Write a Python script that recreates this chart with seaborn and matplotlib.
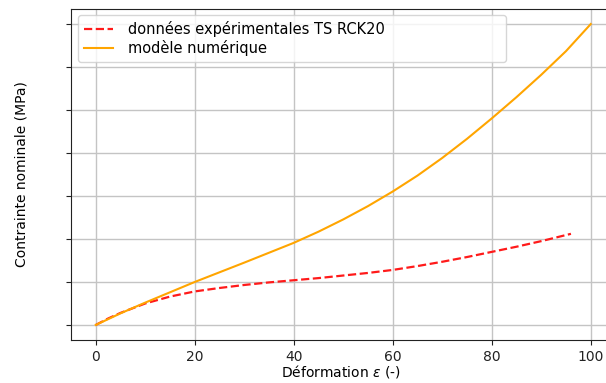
import matplotlib
matplotlib.use("Agg")
import matplotlib.pyplot as plt
import seaborn as sns
import pandas as pd

# Experimental data (TS RCK20)
exp_strain = [0, 2.5, 5, 7.5, 10, 12.5, 15, 17.5, 20, 25, 30, 35, 40, 45, 50, 55,
              60, 65, 70, 75, 80, 85, 90, 96]
exp_stress = [0, 0.15, 0.28, 0.39, 0.50, 0.58, 0.66, 0.72, 0.78, 0.86, 0.93, 0.99,
              1.04, 1.09, 1.15, 1.21, 1.28, 1.37, 1.47, 1.58, 1.70, 1.82, 1.95, 2.12]

# Numerical model
mod_strain = [0, 5, 10, 15, 20, 25, 30, 35, 40, 45, 50, 55, 60, 65, 70, 75, 80,
              85, 90, 95, 100]
mod_stress = [0, 0.27, 0.52, 0.76, 1.0, 1.225, 1.45, 1.68, 1.91, 2.17, 2.455, 2.765,
              3.105, 3.475, 3.885, 4.33, 4.805, 5.30, 5.82, 6.37, 7.0]

y_ticks = [0, 1, 2, 3, 4, 5, 6, 7]
x_ticks = [0, 20, 40, 60, 80, 100]

label_exp = "données expérimentales TS RCK20"
label_mod = "modèle numérique"

df_exp = pd.DataFrame({"x": exp_strain, "y": exp_stress})
df_mod = pd.DataFrame({"x": mod_strain, "y": mod_stress})

plt.rcParams["font.family"] = ["DejaVu Sans"]
fig = plt.figure(figsize=(6.06, 3.83), dpi=100)
# axes extends past the right edge of the figure (reference is cropped there)
ax_left, ax_right = 71, 700
px_per_unit = 4.95
ax = fig.add_axes([ax_left / 606, 1 - 340 / 383, (ax_right - ax_left) / 606, 331 / 383])

sns.lineplot(data=df_exp, x="x", y="y", ax=ax, color="#ff1a1a", linestyle="--",
             linewidth=1.6, label=label_exp)
sns.lineplot(data=df_mod, x="x", y="y", ax=ax, color="orange", linewidth=1.5,
             label=label_mod)

ax.set_xticks(x_ticks)
ax.set_yticks(y_ticks)
ax.set_yticklabels([])
ax.set_xlim(-5, -5 + (ax_right - ax_left) / px_per_unit)
ax.set_ylim(-0.35, 7.35)
ax.grid(True, color="#c4c4c4", linewidth=1.0)
ax.set_axisbelow(True)
ax.spines["right"].set_visible(False)
ax.set_xlabel("Déformation $\\varepsilon$ (-)", fontsize=10)
ax.xaxis.set_label_coords((341 - ax_left) / (ax_right - ax_left), -23 / 331)
ax.set_ylabel("Contrainte nominale (MPa)", fontsize=10)
ax.yaxis.set_label_coords(-0.078 * 545 / (ax_right - ax_left), 0.5)
ax.tick_params(labelsize=10, colors="#222222")
for s in ax.spines.values():
    s.set_color("#222222")

w = ax_right - ax_left
x0 = (78 - ax_left) / w
x1 = (506 - ax_left) / w
ax.legend(loc="upper left", bbox_to_anchor=(x0, 0, x1 - x0, 1 - 6 / 331),
          mode="expand", borderaxespad=0, fontsize=10.5, framealpha=0.8,
          labelspacing=0.25, handlelength=2.0, handletextpad=1.0)

fig.savefig("out.png", dpi=100)
